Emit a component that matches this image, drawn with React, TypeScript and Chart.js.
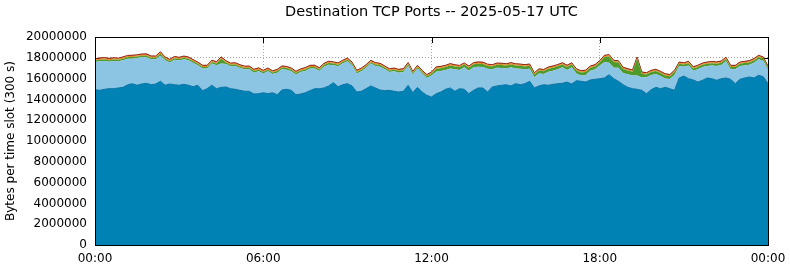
import React, { useEffect, useRef } from "react";
import { Chart, registerables } from "chart.js";

Chart.register(...registerables);

// ---- text ----
const chartTitle = "Destination TCP Ports -- 2025-05-17 UTC";
const yAxisTitle = "Bytes per time slot (300 s)";

// ---- axes ----
const SLOT_MINUTES = 10; // one sampled value every 10 minutes
const UNIT = 1e6; // values below are in millions of bytes
const X_MIN = 0;
const X_MAX = 1440;
const X_STEP = 360;
const Y_MIN = 0;
const Y_MAX = 20000000;
const Y_STEP = 2000000;

// ---- series (millions of bytes per 300 s slot), 00:00 .. 24:00 ----
const seriesDarkBlue = [
  14.93, 14.87, 14.97, 15.03, 15.03, 15.10, 15.16, 15.41, 15.51, 15.36,
  15.48, 15.55, 15.41, 15.48, 15.74, 15.36, 15.48, 15.41, 15.36, 15.45,
  15.36, 15.22, 15.36, 14.84, 15.03, 15.36, 15.03, 15.16, 15.19, 15.03,
  14.97, 14.87, 14.78, 14.78, 14.52, 14.55, 14.64, 14.55, 14.64, 14.45,
  14.90, 14.97, 14.87, 14.45, 14.52, 14.64, 14.84, 15.03, 15.03, 15.10,
  15.29, 15.61, 15.22, 15.41, 15.51, 15.29, 14.71, 14.78, 15.03, 15.29,
  15.10, 14.90, 14.84, 14.87, 14.78, 14.71, 14.78, 15.36, 14.64, 15.16,
  14.71, 14.39, 14.23, 14.55, 14.71, 14.97, 15.10, 14.78, 15.03, 14.97,
  14.55, 14.87, 15.10, 15.10, 14.71, 15.19, 15.29, 15.36, 15.41, 15.29,
  15.51, 15.41, 15.51, 15.74, 15.10, 15.29, 15.41, 15.36, 15.45, 15.51,
  15.55, 15.67, 15.48, 15.80, 15.74, 15.67, 15.87, 15.93, 15.99, 16.06,
  16.38, 15.99, 15.74, 15.41, 15.16, 15.03, 14.97, 14.87, 14.55, 14.93,
  15.16, 15.03, 15.16, 15.03, 14.87, 16.06, 16.25, 15.99, 15.87, 15.67,
  15.84, 16.06, 15.99, 15.84, 15.99, 16.06, 15.93, 15.51, 15.93, 16.06,
  16.15, 16.06, 16.32, 16.18, 15.51,
];

const seriesLightBlue = [
  2.66, 2.79, 2.72, 2.60, 2.66, 2.56, 2.60, 2.51, 2.41, 2.62,
  2.57, 2.50, 2.44, 2.37, 2.45, 2.40, 2.06, 2.41, 2.37, 2.40,
  2.40, 2.28, 1.92, 2.12, 1.93, 2.08, 2.25, 2.30, 2.21, 2.15,
  2.24, 2.15, 2.11, 2.11, 2.05, 2.15, 1.84, 2.15, 1.80, 2.12,
  1.99, 1.89, 1.83, 1.93, 2.11, 2.09, 2.12, 1.93, 1.70, 2.05,
  2.05, 1.67, 1.96, 2.03, 2.15, 1.99, 1.77, 1.92, 1.99, 2.15,
  2.11, 2.25, 2.05, 1.76, 1.92, 1.86, 1.85, 1.85, 1.74, 1.80,
  1.77, 1.67, 2.08, 2.12, 2.02, 1.86, 1.88, 2.11, 1.80, 2.11,
  2.21, 2.21, 2.05, 2.02, 2.24, 1.70, 1.76, 1.66, 1.57, 1.79,
  1.47, 1.54, 1.38, 1.21, 1.02, 1.21, 1.03, 1.31, 1.31, 1.38,
  1.53, 1.16, 1.60, 0.70, 0.57, 0.68, 0.89, 0.96, 1.28, 1.51,
  1.15, 1.05, 1.31, 1.11, 1.27, 1.28, 1.34, 1.24, 1.57, 1.42,
  1.28, 1.22, 0.86, 0.93, 1.48, 1.15, 0.89, 1.28, 0.88, 1.22,
  1.27, 1.15, 1.28, 1.37, 1.31, 1.60, 0.96, 1.38, 1.28, 1.21,
  1.18, 1.46, 1.53, 1.51, 1.31,
];

const seriesGreen = [
  0.15, 0.16, 0.15, 0.14, 0.15, 0.15, 0.16, 0.15, 0.15, 0.14,
  0.15, 0.15, 0.16, 0.15, 0.20, 0.15, 0.15, 0.14, 0.15, 0.15,
  0.15, 0.16, 0.15, 0.15, 0.15, 0.16, 0.18, 0.45, 0.16, 0.15,
  0.15, 0.15, 0.14, 0.15, 0.15, 0.16, 0.15, 0.15, 0.15, 0.15,
  0.16, 0.15, 0.15, 0.15, 0.14, 0.15, 0.15, 0.16, 0.15, 0.15,
  0.15, 0.16, 0.15, 0.15, 0.15, 0.15, 0.16, 0.15, 0.15, 0.14,
  0.15, 0.15, 0.16, 0.15, 0.15, 0.15, 0.15, 0.16, 0.15, 0.15,
  0.15, 0.16, 0.15, 0.28, 0.27, 0.28, 0.29, 0.28, 0.28, 0.27,
  0.28, 0.29, 0.28, 0.28, 0.27, 0.28, 0.28, 0.29, 0.28, 0.28,
  0.27, 0.28, 0.28, 0.29, 0.28, 0.28, 0.27, 0.28, 0.28, 0.29,
  0.28, 0.28, 0.27, 0.28, 0.28, 0.29, 0.28, 0.28, 0.30, 0.50,
  0.60, 0.55, 0.50, 0.40, 0.35, 0.35, 1.60, 0.35, 0.28, 0.28,
  0.29, 0.28, 0.28, 0.27, 0.28, 0.22, 0.22, 0.21, 0.22, 0.23,
  0.22, 0.22, 0.21, 0.22, 0.22, 0.23, 0.22, 0.22, 0.21, 0.22,
  0.22, 0.23, 0.22, 0.22, 0.22,
];

const seriesOrange = [
  0.10, 0.10, 0.11, 0.10, 0.10, 0.09, 0.10, 0.10, 0.11, 0.10,
  0.10, 0.10, 0.10, 0.11, 0.12, 0.10, 0.10, 0.10, 0.09, 0.10,
  0.10, 0.10, 0.10, 0.11, 0.10, 0.10, 0.10, 0.10, 0.10, 0.09,
  0.10, 0.10, 0.10, 0.10, 0.11, 0.10, 0.10, 0.10, 0.10, 0.10,
  0.10, 0.09, 0.10, 0.10, 0.10, 0.11, 0.10, 0.10, 0.10, 0.10,
  0.10, 0.10, 0.11, 0.10, 0.10, 0.10, 0.09, 0.10, 0.10, 0.10,
  0.11, 0.10, 0.10, 0.10, 0.10, 0.10, 0.10, 0.11, 0.10, 0.10,
  0.10, 0.10, 0.10, 0.10, 0.11, 0.10, 0.10, 0.10, 0.09, 0.10,
  0.10, 0.10, 0.10, 0.11, 0.10, 0.10, 0.10, 0.10, 0.10, 0.11,
  0.10, 0.10, 0.10, 0.10, 0.10, 0.09, 0.10, 0.10, 0.11, 0.10,
  0.10, 0.10, 0.10, 0.10, 0.10, 0.11, 0.10, 0.10, 0.10, 0.10,
  0.11, 0.10, 0.10, 0.10, 0.10, 0.10, 0.10, 0.11, 0.10, 0.10,
  0.10, 0.10, 0.09, 0.10, 0.10, 0.10, 0.10, 0.11, 0.10, 0.10,
  0.10, 0.10, 0.10, 0.10, 0.11, 0.10, 0.10, 0.10, 0.10, 0.10,
  0.10, 0.11, 0.10, 0.10, 0.10,
];

const seriesRed = [
  0.07, 0.07, 0.07, 0.08, 0.07, 0.07, 0.07, 0.06, 0.07, 0.07,
  0.07, 0.08, 0.07, 0.07, 0.07, 0.07, 0.07, 0.07, 0.08, 0.07,
  0.07, 0.07, 0.06, 0.07, 0.07, 0.07, 0.07, 0.08, 0.07, 0.07,
  0.07, 0.07, 0.07, 0.07, 0.07, 0.08, 0.07, 0.07, 0.06, 0.07,
  0.07, 0.07, 0.07, 0.08, 0.07, 0.07, 0.07, 0.07, 0.07, 0.07,
  0.08, 0.07, 0.07, 0.07, 0.07, 0.06, 0.07, 0.07, 0.07, 0.08,
  0.07, 0.07, 0.07, 0.07, 0.07, 0.07, 0.08, 0.07, 0.07, 0.07,
  0.07, 0.07, 0.07, 0.08, 0.07, 0.07, 0.07, 0.07, 0.07, 0.06,
  0.07, 0.07, 0.08, 0.07, 0.07, 0.07, 0.07, 0.07, 0.07, 0.07,
  0.08, 0.07, 0.07, 0.07, 0.06, 0.07, 0.07, 0.07, 0.07, 0.07,
  0.07, 0.08, 0.07, 0.07, 0.07, 0.07, 0.07, 0.08, 0.07, 0.07,
  0.07, 0.07, 0.07, 0.07, 0.08, 0.07, 0.07, 0.07, 0.07, 0.07,
  0.07, 0.07, 0.08, 0.07, 0.07, 0.07, 0.06, 0.07, 0.07, 0.07,
  0.07, 0.07, 0.07, 0.08, 0.07, 0.07, 0.07, 0.07, 0.07, 0.07,
  0.08, 0.07, 0.07, 0.07, 0.07,
];

const seriesNames = ["Series 1", "Series 2", "Series 3", "Series 4", "Series 5"];
const seriesList = [seriesDarkBlue, seriesLightBlue, seriesGreen, seriesOrange, seriesRed];
const fillColors = ["#0082b4", "#8cc4e4", "#4e9a2a", "#e88a1a", "#c8321e"];
const edgeColors = ["#0a72a2", "#8cc4e4", "#4e9a2a", "#e88a1a", "#8a2a1a"];
const edgeWidths = [1, 0, 0, 0, 1];

const FONT = "'DejaVu Sans', Verdana, sans-serif";

const pad2 = (n: number) => String(n).padStart(2, "0");

const frameAndTicks = {
  id: "frameAndTicks",
  beforeDatasetsDraw(chart: any) {
    const { ctx, chartArea } = chart;
    const { left, right, top, bottom } = chartArea;
    const L = 6;
    ctx.save();
    ctx.strokeStyle = "#000";
    ctx.lineWidth = 1;
    ctx.beginPath();
    const ys = chart.scales.y;
    ys.ticks.forEach((t: any) => {
      const y = Math.round(ys.getPixelForValue(t.value)) + 0.5;
      ctx.moveTo(left, y);
      ctx.lineTo(left + L, y);
      ctx.moveTo(right - L, y);
      ctx.lineTo(right, y);
    });
    const xs = chart.scales.x;
    xs.ticks.forEach((t: any) => {
      const x = Math.round(xs.getPixelForValue(t.value)) + 0.5;
      ctx.moveTo(x, top);
      ctx.lineTo(x, top + L);
      ctx.moveTo(x, bottom);
      ctx.lineTo(x, bottom - L);
    });
    ctx.stroke();
    ctx.restore();
  },
  afterDatasetsDraw(chart: any) {
    const { ctx, chartArea } = chart;
    const { left, right, top, bottom } = chartArea;
    ctx.save();
    ctx.strokeStyle = "#000";
    ctx.lineWidth = 1;
    ctx.strokeRect(
      Math.round(left) + 0.5,
      Math.round(top) + 0.5,
      Math.round(right) - Math.round(left),
      Math.round(bottom) - Math.round(top)
    );
    ctx.restore();
  },
};

export default function App() {
  const canvasRef = useRef<HTMLCanvasElement | null>(null);

  useEffect(() => {
    document.body.style.margin = "0";
    const canvas = canvasRef.current;
    if (!canvas) return;
    Chart.defaults.font.family = FONT;
    Chart.defaults.color = "#000";

    const datasets = seriesList.map((arr, i) => ({
      label: seriesNames[i],
      data: arr.map((v, k) => ({ x: k * SLOT_MINUTES, y: v * UNIT })),
      backgroundColor: fillColors[i],
      borderColor: edgeColors[i],
      borderWidth: edgeWidths[i],
      fill: i === 0 ? "origin" : "-1",
      pointRadius: 0,
      tension: 0,
    }));

    const chart = new Chart(canvas, {
      type: "line",
      data: { datasets },
      options: {
        responsive: false,
        animation: false,
        events: [],
        layout: { padding: { left: 0, right: 22, top: 0, bottom: 0 } },
        plugins: {
          legend: { display: false },
          tooltip: { enabled: false },
          title: {
            display: true,
            text: chartTitle,
            fullSize: false,
            color: "#000",
            font: { family: FONT, size: 14.5, weight: "normal" },
            padding: { top: 3.6, bottom: 16 },
          },
        },
        scales: {
          x: {
            type: "linear",
            min: X_MIN,
            max: X_MAX,
            ticks: {
              stepSize: X_STEP,
              autoSkip: false,
              maxRotation: 0,
              padding: 7,
              color: "#000",
              font: { family: FONT, size: 12 },
              callback: (v: any) => pad2(Math.floor(Number(v) / 60) % 24) + ":00",
            },
            grid: { color: "#a8a8a8", lineWidth: 1, drawTicks: false },
            border: { display: false, dash: [1, 2] },
            afterFit: (s: any) => {
              s.height = 22;
              s.paddingRight = 0;
              s.paddingLeft = 0;
            },
          },
          y: {
            type: "linear",
            stacked: true,
            min: Y_MIN,
            max: Y_MAX,
            ticks: {
              stepSize: Y_STEP,
              padding: 8,
              color: "#000",
              font: { family: FONT, size: 12 },
              callback: (v: any) => String(v),
            },
            title: {
              display: true,
              text: yAxisTitle,
              color: "#000",
              font: { family: FONT, size: 12 },
              padding: { top: 4, bottom: 0 },
            },
            grid: { color: "#a8a8a8", lineWidth: 1, drawTicks: false },
            border: { display: false, dash: [1, 2] },
            afterFit: (s: any) => {
              s.width = 95;
            },
          },
        },
      } as any,
      plugins: [frameAndTicks],
    });

    return () => chart.destroy();
  }, []);

  return (
    <div style={{ width: 790, height: 267 }}>
      <canvas ref={canvasRef} width={790} height={267} style={{ display: "block" }} />
    </div>
  );
}
